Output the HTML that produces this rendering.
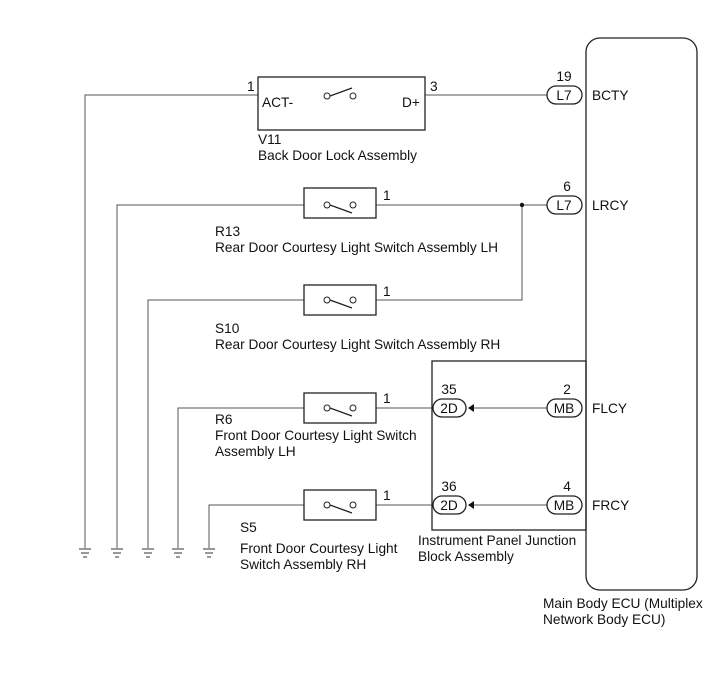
<!DOCTYPE html>
<html><head><style>body{margin:0;background:#fff}svg text{font-family:"Liberation Sans",sans-serif;font-size:13.7px;fill:#111}</style></head><body>
<svg width="713" height="681" viewBox="0 0 713 681" xmlns="http://www.w3.org/2000/svg">
<defs>
<g id="sw"><circle cx="-13" cy="0" r="3" fill="#fff" stroke="#222"/><circle cx="13" cy="0" r="3" fill="#fff" stroke="#222"/><line x1="-10" y1="0" x2="12" y2="8" stroke="#222" stroke-width="1.3"/></g>
<g id="swu"><circle cx="-13" cy="0" r="3" fill="#fff" stroke="#222"/><circle cx="13" cy="0" r="3" fill="#fff" stroke="#222"/><line x1="-10" y1="0" x2="12" y2="-8" stroke="#222" stroke-width="1.3"/></g>
<g id="gnd" stroke="#333" stroke-width="1"><line x1="-6" y1="0" x2="6" y2="0"/><line x1="-4" y1="4" x2="4" y2="4"/><line x1="-2" y1="8" x2="2" y2="8"/></g>
</defs>
<g fill="none" stroke="#555" stroke-width="1">
<polyline points="85,548 85,95 258,95"/>
<line x1="425" y1="95" x2="547" y2="95"/>
<polyline points="117,548 117,205 304,205"/>
<line x1="376" y1="205" x2="547" y2="205"/>
<polyline points="148,548 148,300 304,300"/>
<polyline points="376,300 522,300 522,205"/>
<polyline points="178,548 178,408 304,408"/>
<line x1="376" y1="408" x2="432" y2="408"/>
<line x1="472" y1="408" x2="547" y2="408"/>
<polyline points="209,548 209,505 304,505"/>
<line x1="376" y1="505" x2="432" y2="505"/>
<line x1="472" y1="505" x2="547" y2="505"/>
</g>
<g fill="none" stroke="#222" stroke-width="1.3">
<rect x="586" y="38" width="111" height="552" rx="14"/>
<rect x="258" y="77" width="167" height="53"/>
<rect x="304" y="188" width="72" height="30"/>
<rect x="304" y="285" width="72" height="30"/>
<rect x="304" y="393" width="72" height="30"/>
<rect x="304" y="490" width="72" height="30"/>
<rect x="432" y="361" width="154" height="169"/>
</g>
<use href="#swu" x="340" y="96"/><use href="#sw" x="340" y="205"/><use href="#sw" x="340" y="300"/><use href="#sw" x="340" y="408"/><use href="#sw" x="340" y="505"/>
<use href="#gnd" x="85" y="549"/><use href="#gnd" x="117" y="549"/><use href="#gnd" x="148" y="549"/><use href="#gnd" x="178" y="549"/><use href="#gnd" x="209" y="549"/>
<circle cx="522" cy="205" r="2.2" fill="#111"/>
<g fill="#fff" stroke="#222" stroke-width="1.3">
<rect x="547" y="86" width="35" height="18" rx="9"/>
<rect x="547" y="196" width="35" height="18" rx="9"/>
<rect x="547" y="399" width="35" height="18" rx="9"/>
<rect x="547" y="496" width="35" height="18" rx="9"/>
<rect x="433" y="399" width="33" height="18" rx="9"/>
<rect x="433" y="496" width="33" height="18" rx="9"/>
</g>
<path d="M468,408 L474,404 L474,412 Z" fill="#111"/>
<path d="M468,505 L474,501 L474,509 Z" fill="#111"/>
<g text-anchor="middle">
<text x="564" y="100">L7</text><text x="564" y="210">L7</text>
<text x="564" y="413">MB</text><text x="564" y="510">MB</text>
<text x="449" y="413">2D</text><text x="449" y="510">2D</text>
<text x="564" y="81">19</text><text x="567" y="191">6</text>
<text x="567" y="394">2</text><text x="567" y="491">4</text>
<text x="449" y="394">35</text><text x="449" y="491">36</text>
</g>
<text x="247" y="91">1</text><text x="430" y="91">3</text>
<text x="262" y="107">ACT-</text><text x="402" y="107">D+</text>
<text x="383" y="200">1</text><text x="383" y="296">1</text><text x="383" y="403">1</text><text x="383" y="500">1</text>
<text x="592" y="100">BCTY</text><text x="592" y="210">LRCY</text><text x="592" y="413">FLCY</text><text x="592" y="510">FRCY</text>
<text x="258" y="144">V11</text><text x="258" y="160">Back Door Lock Assembly</text>
<text x="215" y="236">R13</text><text x="215" y="252">Rear Door Courtesy Light Switch Assembly LH</text>
<text x="215" y="333">S10</text><text x="215" y="349">Rear Door Courtesy Light Switch Assembly RH</text>
<text x="215" y="424">R6</text><text x="215" y="440">Front Door Courtesy Light Switch</text><text x="215" y="456">Assembly LH</text>
<text x="240" y="532">S5</text><text x="240" y="553">Front Door Courtesy Light</text><text x="240" y="569">Switch Assembly RH</text>
<text x="418" y="545">Instrument Panel Junction</text><text x="418" y="561">Block Assembly</text>
<text x="543" y="608">Main Body ECU (Multiplex</text><text x="543" y="624">Network Body ECU)</text>
</svg>
</body></html>
